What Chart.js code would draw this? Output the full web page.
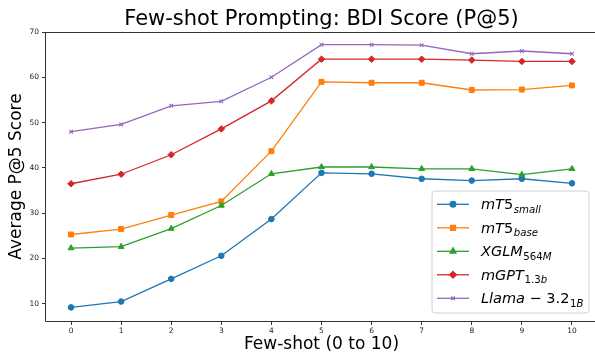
<!DOCTYPE html>
<html>
<head>
<meta charset="utf-8">
<script src="https://cdn.jsdelivr.net/npm/chart.js@4/dist/chart.umd.min.js"></script>
<style>
html,body{margin:0;padding:0;background:#fff;overflow:hidden;}
#wrap{width:640px;height:356px;}
</style>
</head>
<body>
<div id="wrap"><canvas id="c" width="640" height="356"></canvas></div>
<script>
const shots = ['0','1','2','3','4','5','6','7','8','9','10'];
const yTicks = [10,20,30,40,50,60,70];

const mt5Small = [9.2,10.5,15.5,20.6,28.7,38.9,38.7,37.6,37.2,37.6,36.6];
const mt5Base  = [25.3,26.5,29.6,32.6,43.7,59.0,58.8,58.8,57.2,57.3,58.2];
const xglm     = [22.3,22.6,26.6,31.7,38.7,40.2,40.2,39.8,39.8,38.5,39.8];
const mgpt     = [36.5,38.6,42.9,48.6,54.8,64.0,64.0,64.0,63.8,63.5,63.5];
const llama    = [48.0,49.6,53.7,54.7,60.0,67.2,67.2,67.1,65.2,65.8,65.2];

const seriesBase = ['mT5','mT5','XGLM','mGPT','Llama − 3.2'];
const seriesSub  = ['small','base','564M','1.3b','1B'];
const seriesValues = [mt5Small, mt5Base, xglm, mgpt, llama];
const colors = ['#1f77b4','#ff7f0e','#2ca02c','#d62728','#9467bd'];
const styles = ['circle','rect','triangle','rectRot','crossRot'];
const radii  = [2.8,3.5,3.4,3.3,2.6];
const titleText = 'Few-shot Prompting: BDI Score (P@5)';

const FONT = "'DejaVu Sans', sans-serif";

const datasets = seriesValues.map((vals,i)=>({
  label: seriesBase[i] + '_' + seriesSub[i],
  data: vals,
  borderColor: colors[i],
  backgroundColor: colors[i],
  pointBackgroundColor: colors[i],
  pointBorderColor: colors[i],
  pointStyle: styles[i],
  pointRadius: radii[i],
  pointHoverRadius: radii[i],
  pointBorderWidth: styles[i]==='crossRot' ? 1.1 : 1,
  borderWidth: 1.3,
  tension: 0,
  order: 5 - i
}));

function drawMixed(ctx, text, x, y, size){
  for (const ch of text){
    const isLetter = /[A-Za-z]/.test(ch);
    ctx.font = (isLetter ? 'italic ' : '') + size + 'px ' + FONT;
    ctx.fillText(ch, x, y);
    x += ctx.measureText(ch).width;
  }
  return x;
}

const extras = {
  id: 'extras',
  afterDraw(chart){
    const ctx = chart.ctx;
    const a = chart.chartArea;
    ctx.save();
    // title centred over plot area
    ctx.fillStyle = '#000';
    ctx.font = '21px ' + FONT;
    ctx.textAlign = 'center';
    ctx.textBaseline = 'middle';
    ctx.fillText(titleText, (a.left + a.right) / 2, 19.5);
    // x axis title
    ctx.font = '17px ' + FONT;
    ctx.fillText('Few-shot (0 to 10)', (a.left + a.right) / 2, 345);
    // spines: top, left, bottom
    ctx.strokeStyle = '#333';
    ctx.lineWidth = 1;
    const L = Math.round(a.left) - 0.5, T = Math.round(a.top) + 0.5, B = Math.round(a.bottom) + 0.5;
    ctx.beginPath();
    ctx.moveTo(a.right, T); ctx.lineTo(L, T); ctx.lineTo(L, B); ctx.lineTo(a.right, B);
    ctx.stroke();
    // legend
    const bx = 432, by = 191, bw = 157, bh = 122, r = 3;
    ctx.fillStyle = 'rgba(255,255,255,0.85)';
    ctx.strokeStyle = '#d0d0d0';
    ctx.beginPath();
    ctx.moveTo(bx+r, by);
    ctx.lineTo(bx+bw-r, by); ctx.quadraticCurveTo(bx+bw, by, bx+bw, by+r);
    ctx.lineTo(bx+bw, by+bh-r); ctx.quadraticCurveTo(bx+bw, by+bh, bx+bw-r, by+bh);
    ctx.lineTo(bx+r, by+bh); ctx.quadraticCurveTo(bx, by+bh, bx, by+bh-r);
    ctx.lineTo(bx, by+r); ctx.quadraticCurveTo(bx, by, bx+r, by);
    ctx.closePath(); ctx.fill(); ctx.stroke();
    const rowY0 = 204.3, rowStep = 23.5;
    for (let i=0;i<seriesBase.length;i++){
      const cy = rowY0 + i*rowStep;
      ctx.strokeStyle = colors[i];
      ctx.fillStyle = colors[i];
      ctx.lineWidth = 1.3;
      ctx.beginPath();
      ctx.moveTo(437, cy); ctx.lineTo(469, cy); ctx.stroke();
      Chart.helpers.drawPoint(ctx, {pointStyle: styles[i], radius: radii[i], rotation: 0, borderWidth: styles[i]==='crossRot'?1.1:1}, 453, cy);
      ctx.fillStyle = '#000';
      ctx.textBaseline = 'alphabetic';
      ctx.textAlign = 'left';
      let x = drawMixed(ctx, seriesBase[i], 481, cy+5, 14.5);
      drawMixed(ctx, seriesSub[i], x+0.5, cy+8.2, 10.2);
    }
    ctx.restore();
  }
};

new Chart(document.getElementById('c'), {
  type: 'line',
  data: { labels: shots, datasets },
  options: {
    responsive: false,
    animation: false,
    events: [],
    layout: { padding: { left: 0, right: 43, top: 32, bottom: 0 } },
    plugins: {
      legend: { display: false },
      tooltip: { enabled: false },
      title: { display: false }
    },
    scales: {
      x: {
        type: 'category',
        offset: true,
        grid: { display: true, drawOnChartArea: false, drawTicks: true, tickLength: 4, tickColor: '#333', offset: false },
        border: { display: false },
        ticks: { color: '#222', font: { family: FONT, size: 7.5 }, padding: 2, maxRotation: 0, autoSkip: false },
        title: { display: false },
        afterFit(s){ s.height = 35; }
      },
      y: {
        type: 'linear',
        min: 6.2, max: 70,
        afterBuildTicks(s){ s.ticks = yTicks.map(v=>({value:v})); },
        grid: { display: true, drawOnChartArea: false, drawTicks: true, tickLength: 4, tickColor: '#333' },
        border: { display: false },
        ticks: { color: '#222', font: { family: FONT, size: 7.5 }, padding: 3 },
        title: { display: true, text: 'Average P@5 Score', color: '#000', font: { family: FONT, size: 17, lineHeight: 1.2 }, padding: { top: 6, bottom: 0 } },
        afterFit(s){ s.width = 46; }
      }
    }
  },
  plugins: [extras]
});
</script>
</body>
</html>
